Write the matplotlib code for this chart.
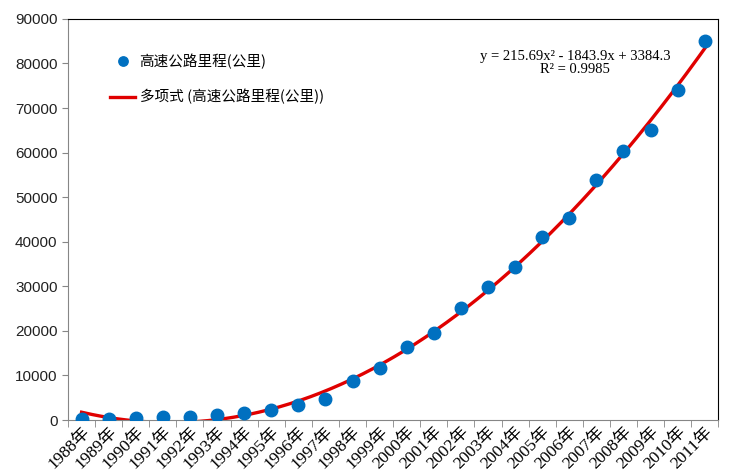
import matplotlib
matplotlib.use("Agg")
import matplotlib.pyplot as plt
import numpy as np
from matplotlib.ticker import FixedLocator, NullFormatter

plt.rcParams["font.family"] = ["Liberation Sans", "Noto Sans CJK SC", "DejaVu Sans"]

YEARS = [1988, 1989, 1990, 1991, 1992, 1993, 1994, 1995, 1996, 1997, 1998, 1999,
         2000, 2001, 2002, 2003, 2004, 2005, 2006, 2007, 2008, 2009, 2010, 2011]
MILEAGE_KM = [147, 271, 522, 574, 652, 1145, 1603, 2141, 3422, 4771, 8733, 11605,
              16314, 19437, 25130, 29745, 34288, 41005, 45339, 53913, 60302, 65055,
              74113, 84946]
X_LABELS = [f"{y}年" for y in YEARS]
SERIES_NAME = "高速公路里程(公里)"
TREND_NAME = "多项式 (高速公路里程(公里))"
EQUATION_TEXT = "y = 215.69x² - 1843.9x + 3384.3\nR² = 0.9985"

BLUE = "#0070C0"
RED = "#E00000"
GRAY = "#868686"

x = np.arange(1, len(YEARS) + 1)
y = np.array(MILEAGE_KM, dtype=float)

# second order trend line, like the spreadsheet's polynomial trendline
coeffs = np.polyfit(x, y, 2)
xs = np.linspace(x[0], x[-1], 300)
ys = np.polyval(coeffs, xs)

fig = plt.figure(figsize=(7.29, 4.73), dpi=100)
ax = fig.add_axes([0.0933, 0.112, 0.892, 0.848])

ax.plot(x, y, "o", color=BLUE, markersize=9, label=SERIES_NAME, zorder=3)
ax.plot(xs, ys, color=RED, linewidth=2.4, label=TREND_NAME, zorder=2)

ax.set_xlim(0.5, len(YEARS) + 0.5)
ax.set_ylim(0, 90000)
ax.set_yticks(np.arange(0, 90001, 10000))
ax.tick_params(axis="y", labelsize=11, length=4, color=GRAY, labelcolor="#222222")

ax.set_xticks(x)
ax.set_xticklabels(X_LABELS, rotation=45, ha="right", rotation_mode="anchor",
                   family=["Liberation Serif", "Noto Sans CJK SC"], fontsize=12.5)
ax.tick_params(axis="x", which="major", length=0, pad=3)
ax.xaxis.set_minor_locator(FixedLocator(np.arange(0.5, len(YEARS) + 1, 1)))
ax.xaxis.set_minor_formatter(NullFormatter())
ax.tick_params(axis="x", which="minor", length=5, color=GRAY)

ax.spines["left"].set_color(GRAY)
ax.spines["bottom"].set_color(GRAY)
ax.spines["top"].set_color("black")
ax.spines["right"].set_color("black")

ax.legend(loc="upper left", bbox_to_anchor=(0.045, 0.945), frameon=False,
          handlelength=1.7, handletextpad=0.3, labelspacing=1.35, markerscale=0.75,
          prop={"family": ["Noto Sans CJK SC", "DejaVu Sans"], "size": 10.5})

ax.text(0.78, 0.89, EQUATION_TEXT, transform=ax.transAxes, ha="center", va="center",
        family="Liberation Serif", fontsize=10.5, linespacing=1.0)

fig.savefig("out.png", dpi=100)
